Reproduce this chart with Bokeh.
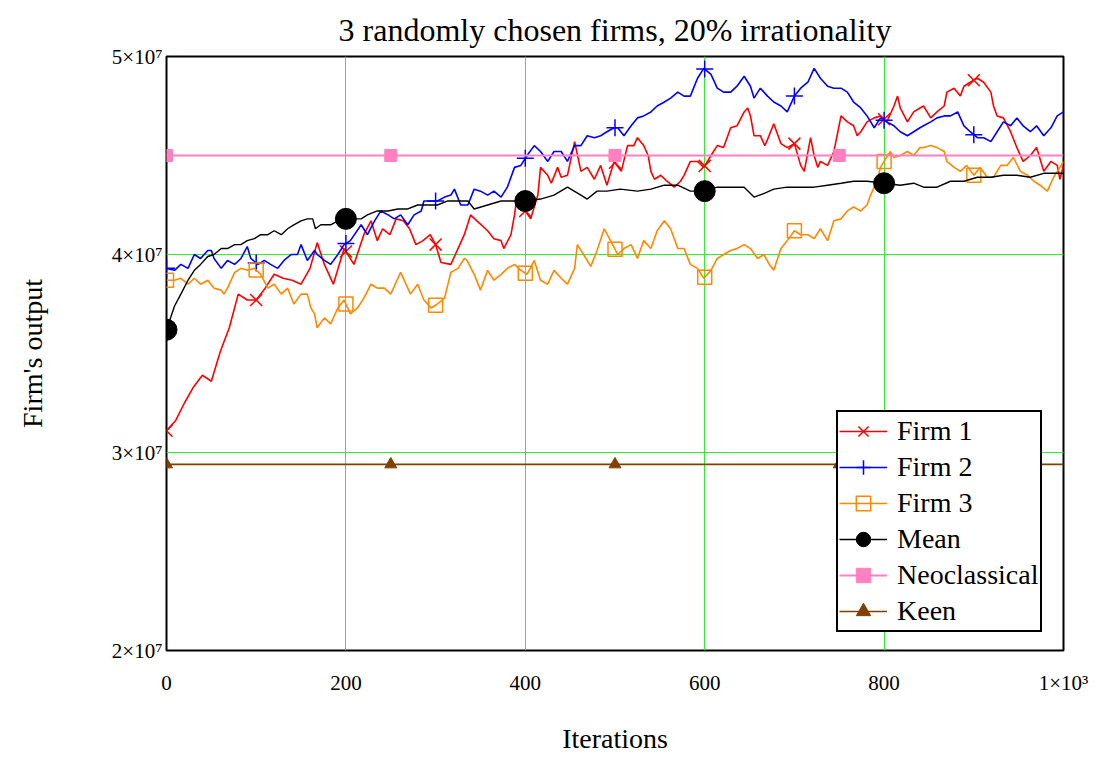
import numpy as np
from bokeh.plotting import figure
from bokeh.models import FixedTicker, Legend, LegendItem, Range1d
from bokeh.embed import file_html
from bokeh.resources import INLINE

FONT = "Liberation Serif"

title_text = "3 randomly chosen firms, 20% irrationality"
x_label = "Iterations"
y_label = "Firm's output"

x_ticks = [0, 200, 400, 600, 800, 1000]
x_tick_labels = {1000: "1×10³"}
y_ticks = [20000000, 30000000, 40000000, 50000000]
y_tick_labels = {20000000: "2×10⁷", 30000000: "3×10⁷", 40000000: "4×10⁷", 50000000: "5×10⁷"}

# values in units of 1e7
f1_iter = [0,10,20,30,40,50,60,70,80,90,100,110,120,130,140,150,160,168,176,186,198,209,220,228,235,241,249,256,264,271,278,286,294,300,306,317,325,332,339,346,358,365,373,376,384,388,391,400,406,414,417,425,429,436,440,447,455,462,469,477,484,491,499,507,514,521,525,532,537,540,544,551,558,566,573,577,584,592,599,607,614,621,629,636,644,648,651,655,662,667,670,677,685,692,700,707,711,718,722,726,729,737,744,752,759,766,770,774,781,789,796,803,811,815,818,826,833,840,844,852,859,867,870,878,885,889,896,904,911,919,922,926,933,941,948,955,963,970,978,986,993,996,1000]
f1_val = [3.11,3.16,3.25,3.33,3.39,3.36,3.51,3.63,3.80,3.77,3.77,3.83,3.90,3.88,3.87,3.85,3.93,4.06,3.95,3.85,4.03,3.95,4.10,4.17,4.07,4.13,4.10,4.18,4.17,4.13,4.05,4.07,4.10,4.05,3.96,3.95,4.03,4.10,4.20,4.17,4.12,4.08,4.07,4.03,4.10,4.20,4.30,4.22,4.18,4.30,4.44,4.40,4.36,4.44,4.39,4.40,4.57,4.42,4.44,4.38,4.45,4.35,4.47,4.42,4.55,4.55,4.59,4.55,4.50,4.42,4.38,4.40,4.37,4.34,4.37,4.40,4.47,4.47,4.44,4.50,4.55,4.54,4.64,4.65,4.72,4.74,4.70,4.60,4.60,4.55,4.58,4.66,4.56,4.54,4.56,4.45,4.42,4.59,4.50,4.44,4.47,4.45,4.52,4.70,4.67,4.65,4.60,4.62,4.67,4.69,4.70,4.67,4.75,4.80,4.74,4.67,4.72,4.74,4.75,4.69,4.72,4.75,4.82,4.84,4.80,4.85,4.87,4.89,4.87,4.82,4.75,4.70,4.69,4.62,4.54,4.47,4.50,4.54,4.42,4.47,4.45,4.38,4.45]

f2_iter = [0,9,16,24,31,38,46,50,53,61,68,76,83,90,94,102,109,116,124,131,139,146,150,157,165,168,176,183,191,198,205,217,224,232,239,247,254,261,269,276,284,287,295,302,310,317,321,328,336,343,350,358,365,373,380,388,395,402,410,417,425,432,440,447,455,462,469,477,484,491,499,503,510,518,525,532,540,547,555,562,570,577,584,592,599,607,614,621,629,636,644,651,655,662,670,677,685,692,700,707,715,722,729,737,744,752,759,766,774,781,789,796,803,811,818,826,833,840,844,852,859,867,874,882,889,896,904,911,919,926,933,941,948,955,963,970,978,986,993,1000]
f2_val = [3.93,3.92,3.95,3.93,4.00,3.98,4.02,4.02,3.98,3.93,3.97,3.95,3.98,4.04,3.98,3.95,3.97,3.95,3.93,3.97,4.00,4.00,4.05,3.97,4.02,4.00,3.97,3.95,4.00,4.05,4.07,4.15,4.10,4.17,4.22,4.20,4.18,4.20,4.15,4.20,4.22,4.27,4.27,4.27,4.29,4.30,4.33,4.25,4.25,4.33,4.32,4.30,4.32,4.29,4.34,4.44,4.45,4.50,4.55,4.52,4.47,4.52,4.52,4.47,4.55,4.55,4.60,4.59,4.60,4.62,4.64,4.64,4.60,4.65,4.69,4.70,4.72,4.75,4.77,4.79,4.82,4.80,4.80,4.89,4.94,4.91,4.84,4.82,4.82,4.85,4.90,4.85,4.79,4.84,4.80,4.77,4.75,4.72,4.80,4.84,4.87,4.94,4.89,4.85,4.84,4.84,4.82,4.77,4.74,4.70,4.64,4.69,4.67,4.65,4.62,4.60,4.62,4.64,4.65,4.67,4.69,4.70,4.70,4.72,4.65,4.62,4.59,4.59,4.57,4.62,4.67,4.65,4.69,4.65,4.62,4.65,4.60,4.64,4.70,4.72]

f3_iter = [0,9,16,24,31,38,46,53,61,64,68,76,83,90,98,105,113,120,128,135,142,150,157,161,165,168,176,183,191,198,205,213,220,228,235,243,250,258,261,269,272,280,287,295,302,310,317,325,332,335,343,350,358,365,373,380,388,395,402,410,417,425,432,440,447,455,458,465,473,480,488,495,503,510,518,525,532,540,547,555,562,570,577,584,592,599,607,614,621,629,636,644,651,659,666,672,677,685,692,700,707,715,722,729,737,744,752,759,766,774,781,785,789,792,796,800,807,811,818,826,833,840,844,852,859,867,870,878,885,892,900,907,915,922,930,937,944,952,960,967,974,982,989,996,1000]
f3_val = [3.87,3.87,3.88,3.85,3.88,3.85,3.87,3.83,3.82,3.80,3.83,3.91,3.93,3.92,3.93,3.90,3.83,3.85,3.80,3.83,3.75,3.80,3.80,3.73,3.70,3.63,3.68,3.65,3.73,3.77,3.70,3.73,3.78,3.85,3.83,3.83,3.80,3.88,3.91,3.83,3.80,3.85,3.77,3.73,3.75,3.78,3.91,3.93,3.98,3.97,3.90,3.82,3.92,3.87,3.90,3.93,3.95,3.92,3.90,3.97,3.87,3.85,3.92,3.88,3.85,3.93,4.05,4.00,3.94,4.02,4.13,4.07,4.00,4.03,4.05,3.98,4.07,4.03,4.12,4.17,4.13,4.03,4.03,3.95,3.93,3.88,3.92,3.98,4.00,4.02,4.03,4.05,4.03,3.98,4.00,3.95,3.92,4.03,4.07,4.12,4.10,4.10,4.08,4.13,4.07,4.17,4.18,4.22,4.24,4.22,4.25,4.30,4.34,4.37,4.44,4.47,4.52,4.49,4.50,4.52,4.50,4.54,4.54,4.55,4.54,4.52,4.47,4.44,4.42,4.45,4.40,4.44,4.39,4.39,4.45,4.45,4.49,4.42,4.40,4.37,4.35,4.32,4.39,4.44,4.47]

mean_iter = [0,9,16,24,31,38,46,53,61,68,76,83,90,98,105,113,120,128,135,142,150,157,163,166,172,183,191,200,217,224,235,247,258,269,280,291,302,313,325,336,343,358,373,388,400,417,432,447,462,469,480,491,506,525,540,555,570,584,600,614,629,644,655,667,677,692,707,722,737,752,766,781,800,818,833,844,859,874,889,904,919,933,948,963,978,993,1000]
mean_val = [3.62,3.74,3.80,3.87,3.92,3.95,3.99,4.00,4.03,4.03,4.05,4.05,4.07,4.08,4.10,4.10,4.12,4.10,4.13,4.15,4.17,4.18,4.18,4.13,4.15,4.15,4.17,4.18,4.18,4.20,4.22,4.22,4.23,4.23,4.25,4.25,4.25,4.27,4.27,4.27,4.23,4.25,4.27,4.27,4.27,4.28,4.30,4.34,4.30,4.28,4.32,4.32,4.33,4.32,4.33,4.35,4.35,4.32,4.32,4.34,4.34,4.34,4.29,4.31,4.33,4.34,4.34,4.34,4.35,4.36,4.37,4.37,4.36,4.35,4.36,4.34,4.34,4.37,4.37,4.39,4.39,4.40,4.40,4.39,4.41,4.41,4.41]

neo_iter = [0, 1000]
neo_val = [4.50, 4.50]
keen_iter = [0, 1000]
keen_val = [2.94, 2.94]

firm_marker_iter = [0, 100, 200, 300, 400, 500, 600, 700, 800, 900]
mean_marker_iter = [0, 200, 400, 600, 800]
flat_marker_iter = [0, 250, 500, 750]

SCALE = 1e7


def scaled(v):
    return [x * SCALE for x in v]


p = figure(width=1095, height=756, output_backend="svg", toolbar_location=None,
           x_range=Range1d(0, 1000), y_range=Range1d(2e7, 5e7),
           min_border_left=166, min_border_right=32, min_border_top=56, min_border_bottom=104,
           background_fill_color="white", border_fill_color="white")

p.title.text = title_text
p.title.align = "center"
p.title.text_font = FONT
p.title.text_font_size = "32px"
p.title.text_font_style = "normal"
p.title.text_color = "black"
p.title.standoff = 17

for ax in (p.xaxis[0], p.yaxis[0]):
    ax.axis_line_color = None
    ax.major_tick_line_color = None
    ax.minor_tick_line_color = None
    ax.major_tick_in = 0
    ax.major_tick_out = 0
    ax.major_label_text_font = FONT
    ax.major_label_text_font_size = "21px"
    ax.major_label_text_color = "black"
    ax.axis_label_text_font = FONT
    ax.axis_label_text_font_size = "28px"
    ax.axis_label_text_font_style = "normal"
    ax.axis_label_text_color = "black"

p.xaxis.ticker = FixedTicker(ticks=x_ticks)
xo = {}
for k, v in x_tick_labels.items():
    xo[k] = v
    xo[str(k)] = v
p.xaxis.major_label_overrides = xo
p.xaxis.major_label_standoff = 20
p.xaxis.axis_label = x_label
p.xaxis.axis_label_standoff = 25

p.yaxis.ticker = FixedTicker(ticks=y_ticks)
yo = {}
for k, v in y_tick_labels.items():
    yo[k] = v
    yo[str(k)] = v
p.yaxis.major_label_overrides = yo
p.yaxis.major_label_standoff = 4
p.yaxis.axis_label = y_label
p.yaxis.axis_label_standoff = 61

p.xgrid.grid_line_color = "#33ee33"
p.ygrid.grid_line_color = "#33ee33"
p.xgrid.grid_line_width = 1
p.ygrid.grid_line_width = 1

p.outline_line_color = "black"
p.outline_line_width = 2
p.outline_line_alpha = 1

items = []


def series(name, it, val, color, lw, marker_iter, marker, msize, fill, mlw):
    y = scaled(val)
    r_line = p.line(it, y, line_color=color, line_width=lw)
    my = np.interp(marker_iter, it, y)
    r_m = p.scatter(marker_iter, list(my), marker=marker, size=msize,
                    line_color=color, line_width=mlw,
                    fill_color=fill if fill else None)
    items.append(LegendItem(label=name, renderers=[r_line, r_m]))


series("Firm 1", f1_iter, f1_val, "#ff0000", 1.6, firm_marker_iter, "x", 17, None, 1.5)
series("Firm 2", f2_iter, f2_val, "#0000ff", 1.6, firm_marker_iter, "cross", 17, None, 1.5)
series("Firm 3", f3_iter, f3_val, "#ff8800", 1.6, firm_marker_iter, "square", 14, None, 1.5)
series("Mean", mean_iter, mean_val, "#000000", 1.4, mean_marker_iter, "circle", 21, "#000000", 1)
series("Neoclassical", neo_iter, neo_val, "#ff80c0", 2, flat_marker_iter, "square", 12, "#ff80c0", 1)
series("Keen", keen_iter, keen_val, "#804000", 1.6, flat_marker_iter, "triangle", 12, "#804000", 1)

legend = Legend(items=items, location=(670, 18),
                label_text_font=FONT, label_text_font_size="28px", label_text_color="black",
                glyph_width=48, glyph_height=36, label_height=36, label_standoff=10,
                spacing=0, padding=1, margin=0,
                border_line_color="black", border_line_width=2, border_line_alpha=1,
                background_fill_color="white", background_fill_alpha=1)
p.add_layout(legend)

open("out.html", "w").write(file_html(p, INLINE))
